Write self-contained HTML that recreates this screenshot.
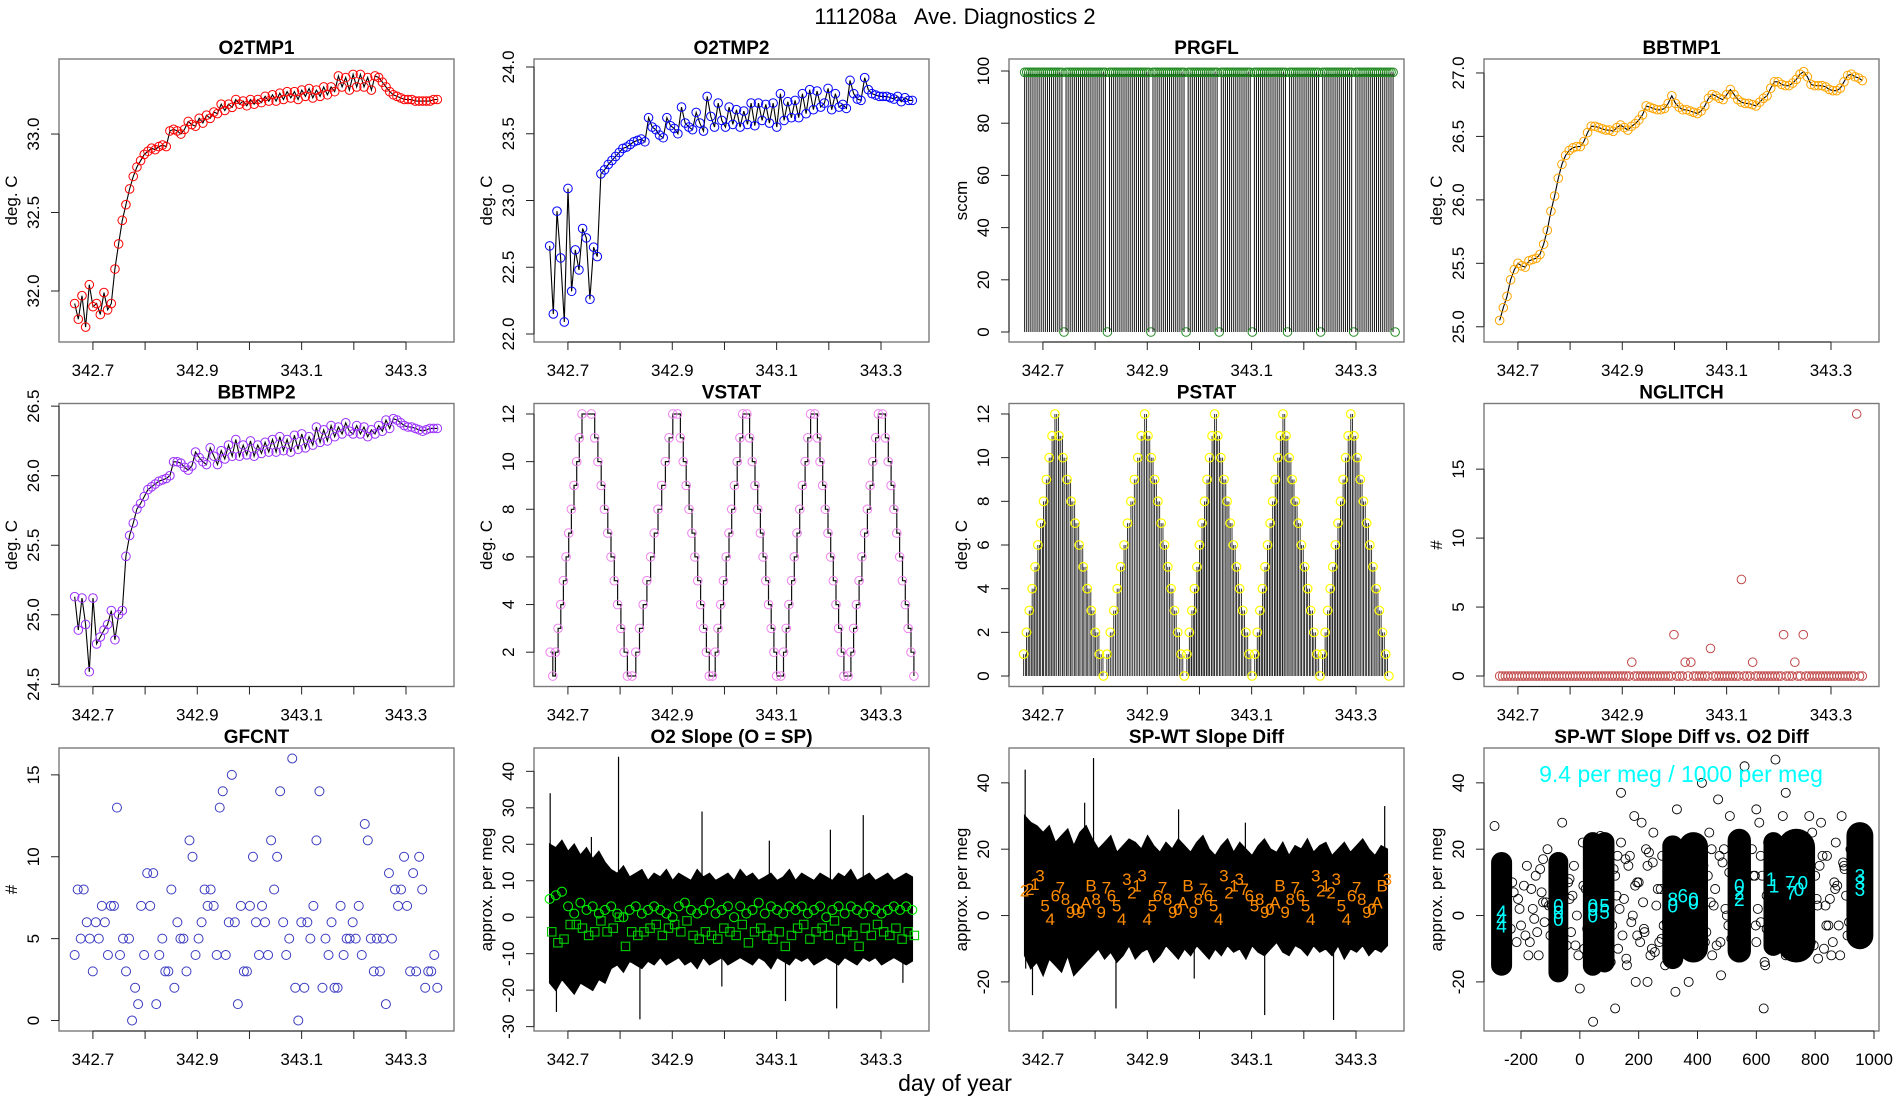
<!DOCTYPE html>
<html>
<head>
<meta charset="utf-8">
<style>
html,body{margin:0;padding:0;background:#fff;}
svg{display:block;font-family:"Liberation Sans",Arial,sans-serif;}
</style>
</head>
<body>
<svg id="chart" width="1900" height="1100" viewBox="0 0 1900 1100" xmlns="http://www.w3.org/2000/svg">
<rect x="0" y="0" width="1900" height="1100" fill="#fff"/>
<text x="955" y="24" text-anchor="middle" font-size="22" style="white-space:pre">111208a   Ave. Diagnostics 2</text>
<text x="955" y="1091" text-anchor="middle" font-size="23">day of year</text>
</svg>
<script>
// ---------------- DATA ----------------
const T0 = 342.665, T1 = 343.36;
const timeDomain = [342.635, 343.392];
const timeTicks = [342.7, 342.8, 342.9, 343.0, 343.1, 343.2, 343.3];
const timeTickLabels = ["342.7", "", "342.9", "", "343.1", "", "343.3"];

const o2tmp1Vals = [31.92,31.82,31.97,31.77,32.04,31.9,31.92,31.85,31.99,31.88,31.92,32.14,32.3,32.45,32.55,32.65,32.73,32.79,32.83,32.87,32.89,32.91,32.9,32.92,32.93,32.92,33.02,33.03,33.02,33.0,33.03,33.08,33.06,33.05,33.1,33.07,33.12,33.1,33.14,33.13,33.19,33.15,33.19,33.17,33.22,33.19,33.21,33.18,33.22,33.19,33.22,33.2,33.24,33.21,33.25,33.21,33.26,33.22,33.27,33.23,33.27,33.22,33.28,33.24,33.29,33.23,33.28,33.24,33.3,33.25,33.3,33.27,33.37,33.3,33.36,33.28,33.38,33.3,33.38,33.3,33.36,33.28,33.37,33.36,33.33,33.3,33.27,33.25,33.24,33.23,33.22,33.22,33.22,33.21,33.21,33.21,33.21,33.21,33.22,33.22];
const o2tmp2Vals = [22.66,22.15,22.92,22.57,22.09,23.09,22.32,22.63,22.48,22.79,22.72,22.26,22.65,22.58,23.2,23.23,23.27,23.3,23.33,23.36,23.39,23.4,23.42,23.44,23.45,23.46,23.44,23.62,23.55,23.53,23.49,23.47,23.62,23.56,23.54,23.5,23.7,23.58,23.55,23.53,23.66,23.58,23.52,23.78,23.63,23.55,23.73,23.6,23.55,23.7,23.57,23.68,23.55,23.67,23.57,23.73,23.56,23.73,23.6,23.72,23.58,23.73,23.55,23.8,23.6,23.74,23.62,23.75,23.62,23.8,23.65,23.83,23.68,23.82,23.7,23.73,23.84,23.68,23.8,23.7,23.72,23.69,23.9,23.8,23.76,23.75,23.92,23.83,23.8,23.79,23.78,23.78,23.78,23.77,23.76,23.78,23.74,23.77,23.75,23.75];
const bbtmp1Vals = [25.05,25.15,25.24,25.37,25.45,25.5,25.48,25.47,25.52,25.53,25.54,25.57,25.65,25.76,25.91,26.03,26.17,26.28,26.35,26.39,26.41,26.42,26.42,26.46,26.53,26.58,26.58,26.57,26.56,26.55,26.55,26.54,26.57,26.59,26.57,26.55,26.58,26.6,26.63,26.67,26.74,26.73,26.72,26.71,26.71,26.72,26.76,26.82,26.76,26.73,26.71,26.71,26.7,26.69,26.68,26.7,26.74,26.8,26.83,26.82,26.8,26.79,26.83,26.87,26.83,26.79,26.77,26.76,26.76,26.75,26.74,26.77,26.8,26.82,26.88,26.93,26.93,26.91,26.9,26.9,26.92,26.95,26.99,27.01,26.97,26.91,26.9,26.9,26.9,26.89,26.87,26.86,26.86,26.88,26.93,26.98,26.99,26.97,26.96,26.94];
const bbtmp2Vals = [25.13,24.89,25.12,24.93,24.59,25.12,24.79,24.84,24.89,24.93,25.03,24.82,25.0,25.03,25.42,25.57,25.66,25.76,25.8,25.85,25.9,25.92,25.94,25.96,25.97,25.98,26.0,26.1,26.1,26.09,26.06,26.04,26.07,26.17,26.13,26.1,26.08,26.2,26.14,26.08,26.18,26.12,26.22,26.14,26.26,26.14,26.22,26.15,26.25,26.14,26.22,26.16,26.24,26.17,26.26,26.17,26.28,26.18,26.26,26.17,26.29,26.19,26.3,26.2,26.28,26.22,26.35,26.24,26.33,26.25,26.36,26.28,26.35,26.3,26.38,26.32,26.3,26.36,26.3,26.35,26.28,26.33,26.3,26.36,26.32,26.4,26.34,26.41,26.4,26.38,26.36,26.35,26.35,26.34,26.33,26.32,26.33,26.34,26.34,26.34];

// PRGFL: 1 = flow on (~99 sccm), 0 = flow off
const prgflFlags = "1111111111"+"1111111110"+"1111111111"+"1111111111"+"0111111111"+"1111111111"+"1011111111"+"1111111101"+"1111111111"+"1111011111"+"1111111111"+"0111111111"+"1111111011"+"1111111111"+"1110111111"+"1111111110"+"1111111111"+"1111111110";
const prgflOn = 99.5, prgflOff = 0;

// VSTAT turning points
const vstatTurnT = [342.666,342.671,342.727,342.745,342.814,342.823,342.901,342.910,342.971,342.977,343.035,343.043,343.100,343.108,343.165,343.173,343.229,343.237,343.295,343.303,343.363];
const vstatTurnV = [2,1,12,12,1,1,12,12,1,1,12,12,1,1,12,12,1,1,12,12,1];
// PSTAT turning points
const pstatTurnT = [342.663,342.723,342.816,342.895,342.971,343.029,343.101,343.160,343.231,343.290,343.363];
const pstatTurnV = [1,12,0,12,0,12,0,12,0,12,0];

const nglitchVals = [
0,0,0,0,0,0,0,0,0,0, 0,0,0,0,0,0,0,0,0,0, 0,0,0,0,0,0,0,0,0,0, 0,0,0,0,0,0,0,0,0,0,
0,0,0,0,0,0,0,1,0,0, 0,0,0,0,0,0,0,0,0,0, 0,0,3,0,0,0,1,0,1,0, 0,0,0,0,0,2,0,0,0,0,
0,0,0,0,0,0,7,0,0,0, 1,0,0,0,0,0,0,0,0,0, 0,3,0,0,0,1,0,0,3,0, 0,0,0,0,0,0,0,0,0,0,
0,0,0,0,0,0,0,19,0,0];

const gfcntVals = [4,8,5,8,6,5,3,6,5,7,6,4,7,7,13,4,5,3,5,0,2,1,7,4,9,7,9,1,4,5,3,3,8,2,6,5,5,3,11,10,4,5,6,8,7,8,7,4,13,14,4,6,15,6,1,7,3,3,7,10,6,4,7,6,4,11,8,10,14,6,4,5,16,2,0,6,2,6,5,7,11,14,2,5,4,6,2,2,7,4,5,5,6,5,7,4,12,11,5,3,5,3,5,1,9,5,8,7,8,10,7,3,9,3,10,8,2,3,3,4,2];

// O2 slope
const o2Hi = [20,19,21,18,20,17,19,16,18,15,13,12,14,11,12,13,10,12,11,13,10,12,11,10,13,11,12,10,11,12,10,13,11,12,10,11,12,10,11,13,10,12,11,10,12,11,10,12,11,13,10,11,12,10,11,12,10,11,12,11];
const o2Lo = [-18,-20,-17,-19,-21,-18,-19,-20,-17,-18,-14,-13,-15,-12,-13,-14,-12,-13,-11,-13,-12,-11,-13,-12,-14,-11,-13,-12,-11,-13,-12,-11,-12,-13,-11,-12,-14,-11,-12,-13,-11,-12,-11,-13,-12,-11,-12,-13,-11,-12,-13,-11,-12,-11,-13,-12,-11,-12,-13,-12];
const o2SpikeT = [342.666,342.678,342.745,342.797,342.838,342.957,342.995,343.086,343.117,343.203,343.215,343.266,343.342];
const o2SpikeV = [34,-26,22,44,-28,29,-19,21,-23,24,-25,28,-18];
const o2Circ = [5,6,7,3,1,4,2,3,1,2,3,1,0,2,3,1,2,3,2,1,0,3,4,2,1,2,4,1,2,3,0,3,1,2,4,1,3,2,1,3,2,3,1,2,3,0,2,3,1,3,2,1,3,2,1,2,3,2,3,2];
const o2Sq = [-4,-7,-6,-2,-2,-3,-5,-4,-1,-4,-3,0,-8,-4,-5,-4,-3,-2,-5,-3,-2,-4,-1,-5,-6,-4,-5,-6,-3,-4,-5,-2,-7,-4,-3,-5,-6,-4,-8,-5,-3,-2,-6,-4,-3,-5,-1,-6,-4,-5,-8,-3,-5,-2,-4,-5,-3,-6,-4,-5];

// SP-WT slope diff
const spHi = [30,28,27,25,27,22,24,26,21,25,27,23,20,22,24,19,21,23,22,20,24,21,19,22,20,23,21,19,22,24,20,18,21,23,19,22,20,18,21,23,20,19,22,18,21,20,23,19,21,22,18,20,22,19,21,23,20,18,21,20];
const spLo = [-12,-16,-14,-18,-13,-15,-17,-12,-18,-16,-14,-12,-10,-13,-11,-14,-12,-9,-13,-11,-10,-14,-12,-9,-11,-13,-10,-12,-9,-11,-13,-10,-12,-9,-11,-10,-13,-9,-11,-12,-10,-8,-11,-12,-9,-10,-12,-9,-11,-10,-12,-9,-13,-10,-11,-9,-12,-10,-11,-9];
const spSpikeT = [342.666,342.667,342.68,342.78,342.797,342.84,342.96,342.99,343.088,343.125,343.257,343.355];
const spSpikeV = [44,-16,-24,34,47.5,-28,32,-19,28,-30,-31.5,33];
const spLabelCh = ["2","2","1","3","5","4","6","7","8","9","0","9","A","B","8","9","7","6","5","4","3","2","1","3","4","5","6","7","8","9","0","A","B","9","8","7","6","5","4","3","2","1","3","7","6","5","8","9","0","A","B","9","8","7","6","5","4","3","2","1","2","3","5","4","6","7","8","9","0","A","B","3"];
const spLabelY = [7.5,8,9.5,12,3,-1,6,8.5,5,1,2,1,4,9,5,1,8.5,6,3,-1,11,7,9,12,-1,3,6,8.5,5,1,2,4,9,1,5,8,6,3,-1,12,7,9,11,8,6,3,5,1,2,4,9,1,5,8.5,6,3,-1,12,7.5,9,7,11,3,-1,6,8.5,5,1,2,4,9,11];

// SP-WT vs O2 diff scatter
const clX = [-266,-73,44,84,316,386,542,658,736,952];
const clHalfW = [34,32,32,32,34,48,38,32,62,44];
const clLo = [-18,-20,-18,-17,-16,-14,-14,-12,-14,-10];
const clHi = [19,19,25,25,24,25,26,25,26,28];
const bgX = [-230,-210,-200,-180,-170,-160,-150,-140,-130,-120,-110,-100,-95,-40,-30,-20,-10,10,15,20,0,110,120,130,140,150,160,170,180,190,200,210,220,230,240,250,260,270,280,290,140,185,120,45,230,420,430,440,450,460,470,480,490,500,510,520,415,370,325,585,600,610,620,630,640,625,690,700,770,780,790,800,810,820,830,840,850,860,870,880,890,900,910,920,665,560,-290,-60,70,330,700,780,600,-215,-190,-145,-125,-105,-35,105,135,165,195,225,255,275,295,425,455,475,505,595,615,635,775,795,815,835,855,875,895,915,
-225,-205,-185,-165,-155,-135,-115,-45,-25,-5,12,25,115,125,145,155,175,195,205,215,235,245,265,285,435,445,465,485,495,515,590,605,615,635,645,685,765,785,805,825,845,865,885,905,-235,-175,-125,-35,-15,128,158,188,218,248,278,418,448,478,508,598,628,778,808,838,868,898];
const bgY = [10,5,-3,15,-8,2,12,-12,7,-2,20,-6,3,10,-5,15,0,22,-10,8,-22,-3,12,-10,22,5,-15,18,0,-20,10,28,-5,15,-12,25,3,-8,18,-15,37,30,-28,-32,-20,15,-5,25,-12,8,35,-18,20,0,30,-10,40,-20,-23,20,-8,28,12,-15,22,-28,30,-12,20,-5,25,12,-13,28,-10,18,5,-8,22,-3,30,14,-6,20,47,45,27,28,24,32,37,30,32,-8,9,-5,17,3,5,-14,2,15,-6,20,-11,8,-2,-8,3,18,-3,12,-2,6,10,-9,15,3,-12,9,16,-2,7,
2,-6,8,-1,14,4,-9,6,-12,9,-4,14,6,-6,17,-2,10,-8,4,19,-10,8,-3,12,4,-9,16,2,-7,12,2,18,-4,8,-2,14,-8,5,18,-3,10,-12,6,-4,-12,4,11,-9,18,-13,9,-4,16,-7,6,20,-8,13,-3,-14,10,3,-3,8,15,-4];
const cyX = [-266,-266,-266,-73,-73,-73,44,44,44,84,84,316,316,350,386,386,542,542,542,650,660,715,718,745,758,952,952,952];
const cyY = [-1,1,-3,1,3,-1,2,0,3,3,1,5,3,6,5,4,7,5,9,11,9,10,7,8,10,12,10,8];
const cyCh = ["4","4","4","0","0","0","0","0","0","5","5","8","0","6","0","0","2","2","0","1","1","7","7","0","0","3","3","3"];
const scXTicks = [-200,0,200,400,600,800,1000];

// ---------------- RENDER ----------------
const NS = 'http://www.w3.org/2000/svg';
const svg = document.getElementById('chart');
const W = 395, H = 283;
function el(tag, attrs, parent){ const e = document.createElementNS(NS, tag); for (const k in attrs) e.setAttribute(k, attrs[k]); (parent || svg).appendChild(e); return e; }

function panel(r, c, o){
  const L = 59 + 475*c, T = 59 + 344.5*r;
  const g = el('g', {});
  
  
  const sx = v => L + (v - o.xd[0])/(o.xd[1]-o.xd[0])*W;
  const sy = v => T + H - (v - o.yd[0])/(o.yd[1]-o.yd[0])*H;
  const marks = el('g', {}, g);
  
  
  const box = el('rect', {x:L, y:T, width:W, height:H, fill:'none', stroke:'#7a7a7a', 'stroke-width':1.4}, g);
  
  
  const ti = el('text', {x:L+W/2, y:T-5, 'text-anchor':'middle', 'font-size':19, 'font-weight':'bold'}, g);
  ti.textContent = o.title;
  
  
  const xa = el('g', {}, g);
  
  
  el('line', {x1:sx(o.xt[0]), x2:sx(o.xt[o.xt.length-1]), y1:T+H, y2:T+H, stroke:'#222', 'stroke-width':1}, xa);
  o.xt.forEach((v,i) => {
    el('line', {x1:sx(v), x2:sx(v), y1:T+H, y2:T+H+8, stroke:'#222', 'stroke-width':1}, xa);
    if (o.xl[i]) {
      const t = el('text', {x:sx(v), y:T+H+34, 'text-anchor':'middle', 'font-size':17}, xa);
      t.textContent = o.xl[i];
      
      
    }
  });
  const ya = el('g', {}, g);
  
  
  el('line', {x1:L, x2:L, y1:sy(o.yt[0]), y2:sy(o.yt[o.yt.length-1]), stroke:'#222', 'stroke-width':1}, ya);
  o.yt.forEach((v,i) => {
    el('line', {x1:L-8, x2:L, y1:sy(v), y2:sy(v), stroke:'#222', 'stroke-width':1}, ya);
    const t = el('text', {x:L-20, y:sy(v), 'text-anchor':'middle', 'font-size':17, transform:`rotate(-90 ${L-20} ${sy(v)})`}, ya);
    t.textContent = o.yl[i];
    
    
  });
  if (o.ylab) {
    const yt = el('text', {x:L-42, y:T+H/2, 'text-anchor':'middle', 'font-size':17, transform:`rotate(-90 ${L-42} ${T+H/2})`}, g);
    yt.textContent = o.ylab;
    
    
  }
  return {g: marks, sx, sy, L, T};
}
const gridT = (i, n) => T0 + i*(T1-T0)/(n-1);

function tempPanel(p, vals, color, name){
  const n = vals.length;
  const pts = vals.map((v,i) => p.sx(gridT(i,n)).toFixed(1) + ',' + p.sy(v).toFixed(1)).join(' ');
  const ln = el('polyline', {points:pts, fill:'none', stroke:'#000', 'stroke-width':1.1}, p.g);
  
  
  vals.forEach((v,i) => {
    const c = el('circle', {cx:p.sx(gridT(i,n)), cy:p.sy(v), r:4.3, fill:'none', stroke:color, 'stroke-width':1}, p.g);
    
    
  });
}

// Row 1
let p = panel(0,0,{name:'panel-o2tmp1', title:'O2TMP1', ylab:'deg. C', xd:timeDomain, yd:[31.675,33.478], xt:timeTicks, xl:timeTickLabels, yt:[32,32.5,33], yl:['32.0','32.5','33.0']});
tempPanel(p, o2tmp1Vals, '#ff0000', 'o2tmp1');
p = panel(0,1,{name:'panel-o2tmp2', title:'O2TMP2', ylab:'deg. C', xd:timeDomain, yd:[21.94,24.06], xt:timeTicks, xl:timeTickLabels, yt:[22,22.5,23,23.5,24], yl:['22.0','22.5','23.0','23.5','24.0']});
tempPanel(p, o2tmp2Vals, '#0000ff', 'o2tmp2');

p = panel(0,2,{name:'panel-prgfl', title:'PRGFL', ylab:'sccm', xd:timeDomain, yd:[-3.83,104.6], xt:timeTicks, xl:timeTickLabels, yt:[0,20,40,60,80,100], yl:['0','20','40','60','80','100']});
{
  const n = prgflFlags.length;
  for (let i=0;i<n;i++){
    const t = T0 + i*(343.375-T0)/(n-1);
    const on = prgflFlags[i] === '1';
    const v = on ? prgflOn : prgflOff;
    if (on) {
      const l = el('line', {x1:p.sx(t), x2:p.sx(t), y1:p.sy(0), y2:p.sy(v), stroke:'#111', 'stroke-width':1}, p.g);
      
      
    }
    const c = el('circle', {cx:p.sx(t), cy:p.sy(v), r:4.3, fill:'none', stroke:'#228b22', 'stroke-width':1}, p.g);
    
    
  }
}
p = panel(0,3,{name:'panel-bbtmp1', title:'BBTMP1', ylab:'deg. C', xd:timeDomain, yd:[24.88,27.11], xt:timeTicks, xl:timeTickLabels, yt:[25,25.5,26,26.5,27], yl:['25.0','25.5','26.0','26.5','27.0']});
tempPanel(p, bbtmp1Vals, '#ffa500', 'bbtmp1');

// Row 2
p = panel(1,0,{name:'panel-bbtmp2', title:'BBTMP2', ylab:'deg. C', xd:timeDomain, yd:[24.484,26.519], xt:timeTicks, xl:timeTickLabels, yt:[24.5,25,25.5,26,26.5], yl:['24.5','25.0','25.5','26.0','26.5']});
tempPanel(p, bbtmp2Vals, '#9b30ff', 'bbtmp2');

function buildSteps(TT, VV){
  const pts = [];
  for (let i=0;i<TT.length-1;i++){
    const a = VV[i], b = VV[i+1];
    const n = Math.max(1, Math.abs(b-a)), s = Math.sign(b-a);
    for (let k=0;k<n;k++) pts.push([TT[i] + k*(TT[i+1]-TT[i])/n, a + s*k]);
  }
  pts.push([TT[TT.length-1], VV[VV.length-1]]);
  return pts;
}
p = panel(1,1,{name:'panel-vstat', title:'VSTAT', ylab:'deg. C', xd:timeDomain, yd:[0.56,12.44], xt:timeTicks, xl:timeTickLabels, yt:[2,4,6,8,10,12], yl:['2','4','6','8','10','12']});
{
  const pts = buildSteps(vstatTurnT, vstatTurnV);
  let d = 'M' + p.sx(pts[0][0]) + ' ' + p.sy(pts[0][1]);
  for (let i=1;i<pts.length;i++) d += ' H' + p.sx(pts[i][0]).toFixed(1) + ' V' + p.sy(pts[i][1]).toFixed(1);
  const path = el('path', {d, fill:'none', stroke:'#111', 'stroke-width':1.2}, p.g);
  
  
  pts.forEach(q => {
    const c = el('circle', {cx:p.sx(q[0]), cy:p.sy(q[1]), r:4.3, fill:'none', stroke:'#ee82ee', 'stroke-width':1}, p.g);
    
    
  });
}
p = panel(1,2,{name:'panel-pstat', title:'PSTAT', ylab:'deg. C', xd:timeDomain, yd:[-0.48,12.48], xt:timeTicks, xl:timeTickLabels, yt:[0,2,4,6,8,10,12], yl:['0','2','4','6','8','10','12']});
{
  const pts = buildSteps(pstatTurnT, pstatTurnV);
  for (let i=0;i<pts.length-1;i++){
    const lev = pts[i][1];
    if (lev <= 0) continue;
    for (let t = pts[i][0]; t < pts[i+1][0]; t += 0.0034){
      const l = el('line', {x1:p.sx(t), x2:p.sx(t), y1:p.sy(0), y2:p.sy(lev), stroke:'#222', 'stroke-width':0.9}, p.g);
      
      
    }
  }
  pts.forEach(q => {
    const c = el('circle', {cx:p.sx(q[0]), cy:p.sy(q[1]), r:4.3, fill:'none', stroke:'#ffff00', 'stroke-width':1.2}, p.g);
    
    
  });
}
p = panel(1,3,{name:'panel-nglitch', title:'NGLITCH', ylab:'#', xd:timeDomain, yd:[-0.76,19.76], xt:timeTicks, xl:timeTickLabels, yt:[0,5,10,15], yl:['0','5','10','15']});
nglitchVals.forEach((v,i) => {
  const c = el('circle', {cx:p.sx(gridT(i,nglitchVals.length)), cy:p.sy(v), r:4.3, fill:'none', stroke:'#c04848', 'stroke-width':1}, p.g);
  
  
});

// Row 3
p = panel(2,0,{name:'panel-gfcnt', title:'GFCNT', ylab:'#', xd:timeDomain, yd:[-0.64,16.64], xt:timeTicks, xl:timeTickLabels, yt:[0,5,10,15], yl:['0','5','10','15']});
gfcntVals.forEach((v,i) => {
  const c = el('circle', {cx:p.sx(gridT(i,gfcntVals.length)), cy:p.sy(v), r:4.5, fill:'none', stroke:'#3a3ac0', 'stroke-width':1}, p.g);
  
  
});

function band(p, hi, lo, name){
  const n = hi.length;
  let d = '';
  hi.forEach((v,i) => { d += (i?' L':'M') + p.sx(gridT(i,n)).toFixed(1) + ' ' + p.sy(v).toFixed(1); });
  for (let i=n-1;i>=0;i--) d += ' L' + p.sx(gridT(i,n)).toFixed(1) + ' ' + p.sy(lo[i]).toFixed(1);
  d += ' Z';
  const b = el('path', {d, fill:'#000', stroke:'#000', 'stroke-width':1.5}, p.g);
  
  
}
function spikes(p, T, V, name){
  T.forEach((t,i) => {
    const l = el('line', {x1:p.sx(t), x2:p.sx(t), y1:p.sy(0), y2:p.sy(V[i]), stroke:'#000', 'stroke-width':1.2}, p.g);
    
    
  });
}
p = panel(2,1,{name:'panel-o2-slope', title:'O2 Slope (O = SP)', ylab:'approx. per meg', xd:timeDomain, yd:[-31.2,46.4], xt:timeTicks, xl:timeTickLabels, yt:[-30,-20,-10,0,10,20,30,40], yl:['-30','-20','-10','0','10','20','30','40']});
band(p, o2Hi, o2Lo, 'o2-slope');
spikes(p, o2SpikeT, o2SpikeV, 'o2-slope');
o2Circ.forEach((v,i) => {
  const c = el('circle', {cx:p.sx(gridT(i,o2Circ.length)), cy:p.sy(v), r:4.5, fill:'none', stroke:'#00ee00', 'stroke-width':1.1}, p.g);
  
  
});
o2Sq.forEach((v,i) => {
  const x = p.sx(gridT(i,o2Sq.length) + 0.004), y = p.sy(v);
  const s = el('rect', {x:x-4.2, y:y-4.2, width:8.4, height:8.4, fill:'none', stroke:'#00cc00', 'stroke-width':1.1}, p.g);
  
  
});

p = panel(2,2,{name:'panel-sp-wt-slope-diff', title:'SP-WT Slope Diff', ylab:'approx. per meg', xd:timeDomain, yd:[-34.8,50.5], xt:timeTicks, xl:timeTickLabels, yt:[-20,0,20,40], yl:['-20','0','20','40']});
band(p, spHi, spLo, 'sp-wt');
spikes(p, spSpikeT, spSpikeV, 'sp-wt');
{
  const n = Math.min(spLabelCh.length, spLabelY.length);
  for (let i=0;i<n;i++){
    const t = el('text', {x:p.sx(gridT(i,n)), y:p.sy(spLabelY[i]) + 6, 'text-anchor':'middle', 'font-size':17, fill:'#ff8c00'}, p.g);
    t.textContent = spLabelCh[i];
    
    
  }
}

p = panel(2,3,{name:'panel-sp-wt-vs-o2-diff', title:'SP-WT Slope Diff vs. O2 Diff', ylab:'approx. per meg', xd:[-325.8,1017], yd:[-34.8,50.5], xt:scXTicks, xl:scXTicks.map(String), yt:[-20,0,20,40], yl:['-20','0','20','40']});
bgX.forEach((x,i) => {
  if (bgY[i] === undefined) return;
  const c = el('circle', {cx:p.sx(x), cy:p.sy(bgY[i]), r:4.5, fill:'none', stroke:'#000', 'stroke-width':0.9}, p.g);
  
  
});
clX.forEach((x,i) => {
  const x0 = p.sx(x - clHalfW[i]), x1 = p.sx(x + clHalfW[i]);
  const y0 = p.sy(clHi[i]), y1 = p.sy(clLo[i]);
  const r = el('rect', {x:x0, y:y0, width:x1-x0, height:y1-y0, rx:(x1-x0)/2, ry:(x1-x0)/2, fill:'#000', stroke:'#000', 'stroke-width':1}, p.g);
  
  
});
cyX.forEach((x,i) => {
  const t = el('text', {x:p.sx(x), y:p.sy(cyY[i]) + 7, 'text-anchor':'middle', 'font-size':19, fill:'#00ffff'}, p.g);
  t.textContent = cyCh[i];
  
  
});
{
  const t = el('text', {x:p.L + 197, y:p.T + 34, 'text-anchor':'middle', 'font-size':23, fill:'#00ffff'}, p.g);
  t.textContent = '9.4 per meg / 1000 per meg';
  
  
}
</script>
</body>
</html>
